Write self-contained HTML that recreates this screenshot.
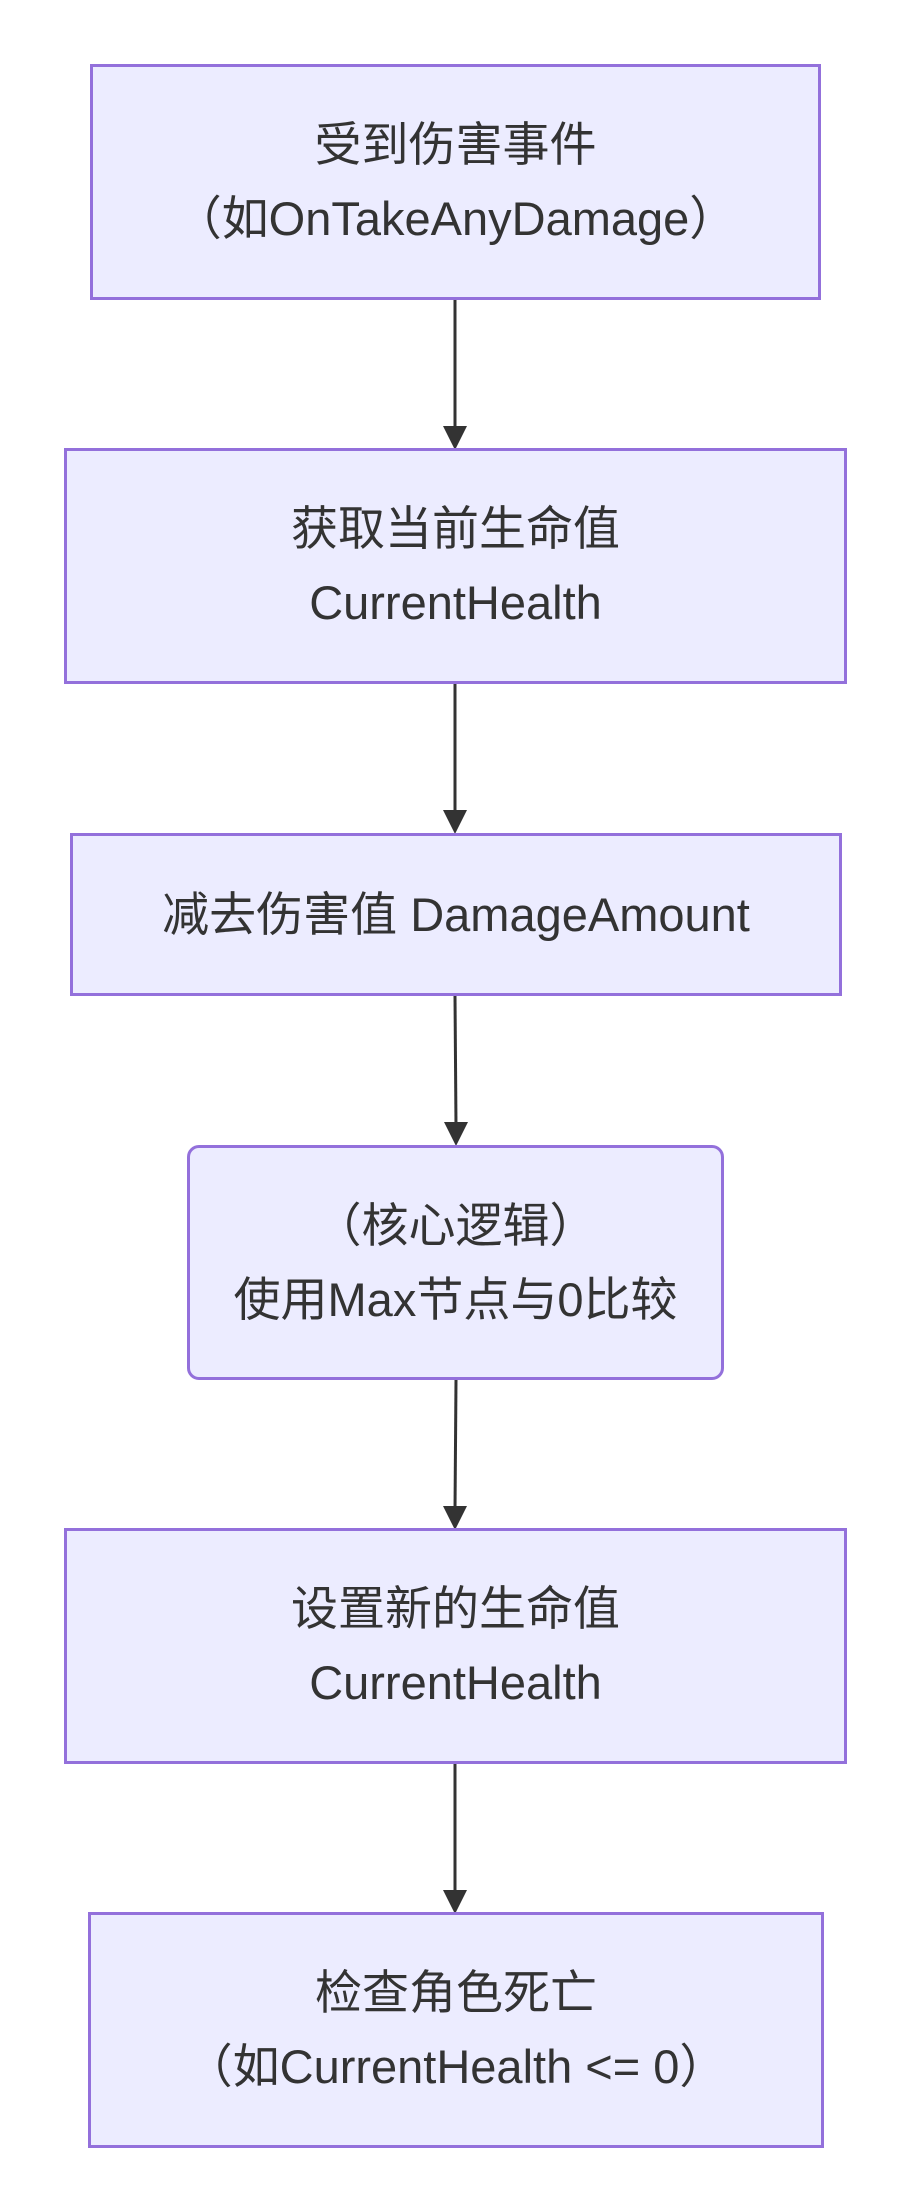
<!DOCTYPE html>
<html><head><meta charset="utf-8"><style>
html,body{margin:0;padding:0;background:#fff;}
body{width:910px;height:2212px;position:relative;overflow:hidden;font-family:"Liberation Sans","Noto Sans CJK SC",sans-serif;color:#333;}
.n{position:absolute;box-sizing:border-box;background:#ECECFF;border:3px solid #9370DB;display:flex;align-items:center;justify-content:center;text-align:center;font-size:47px;line-height:74px;}
svg{position:absolute;left:0;top:0;}
</style></head><body>
<svg width="910" height="2212">
<g stroke="#333" stroke-width="3" fill="none">
<line x1="455" y1="300" x2="455" y2="430"/>
<line x1="455" y1="684" x2="455" y2="814"/>
<line x1="455" y1="996" x2="456" y2="1126"/>
<line x1="456" y1="1380" x2="455" y2="1510"/>
<line x1="455" y1="1764" x2="455" y2="1894"/>
</g>
<g fill="#333">
<polygon points="443,426 467,426 455,450"/>
<polygon points="443,810 467,810 455,834"/>
<polygon points="444,1122 468,1122 456,1146"/>
<polygon points="443,1506 467,1506 455,1530"/>
<polygon points="443,1890 467,1890 455,1914"/>
</g>
</svg>
<div class="n" style="left:90px;top:64px;width:731px;height:236px;">受到伤害事件<br>（如OnTakeAnyDamage）</div>
<div class="n" style="left:64px;top:448px;width:783px;height:236px;">获取当前生命值<br>CurrentHealth</div>
<div class="n" style="left:70px;top:833px;width:772px;height:163px;">减去伤害值 DamageAmount</div>
<div class="n" style="left:187px;top:1145px;width:537px;height:235px;border-radius:12px;">（核心逻辑）<br>使用Max节点与0比较</div>
<div class="n" style="left:64px;top:1528px;width:783px;height:236px;">设置新的生命值<br>CurrentHealth</div>
<div class="n" style="left:88px;top:1912px;width:736px;height:236px;">检查角色死亡<br>（如CurrentHealth &lt;= 0）</div>
</body></html>
